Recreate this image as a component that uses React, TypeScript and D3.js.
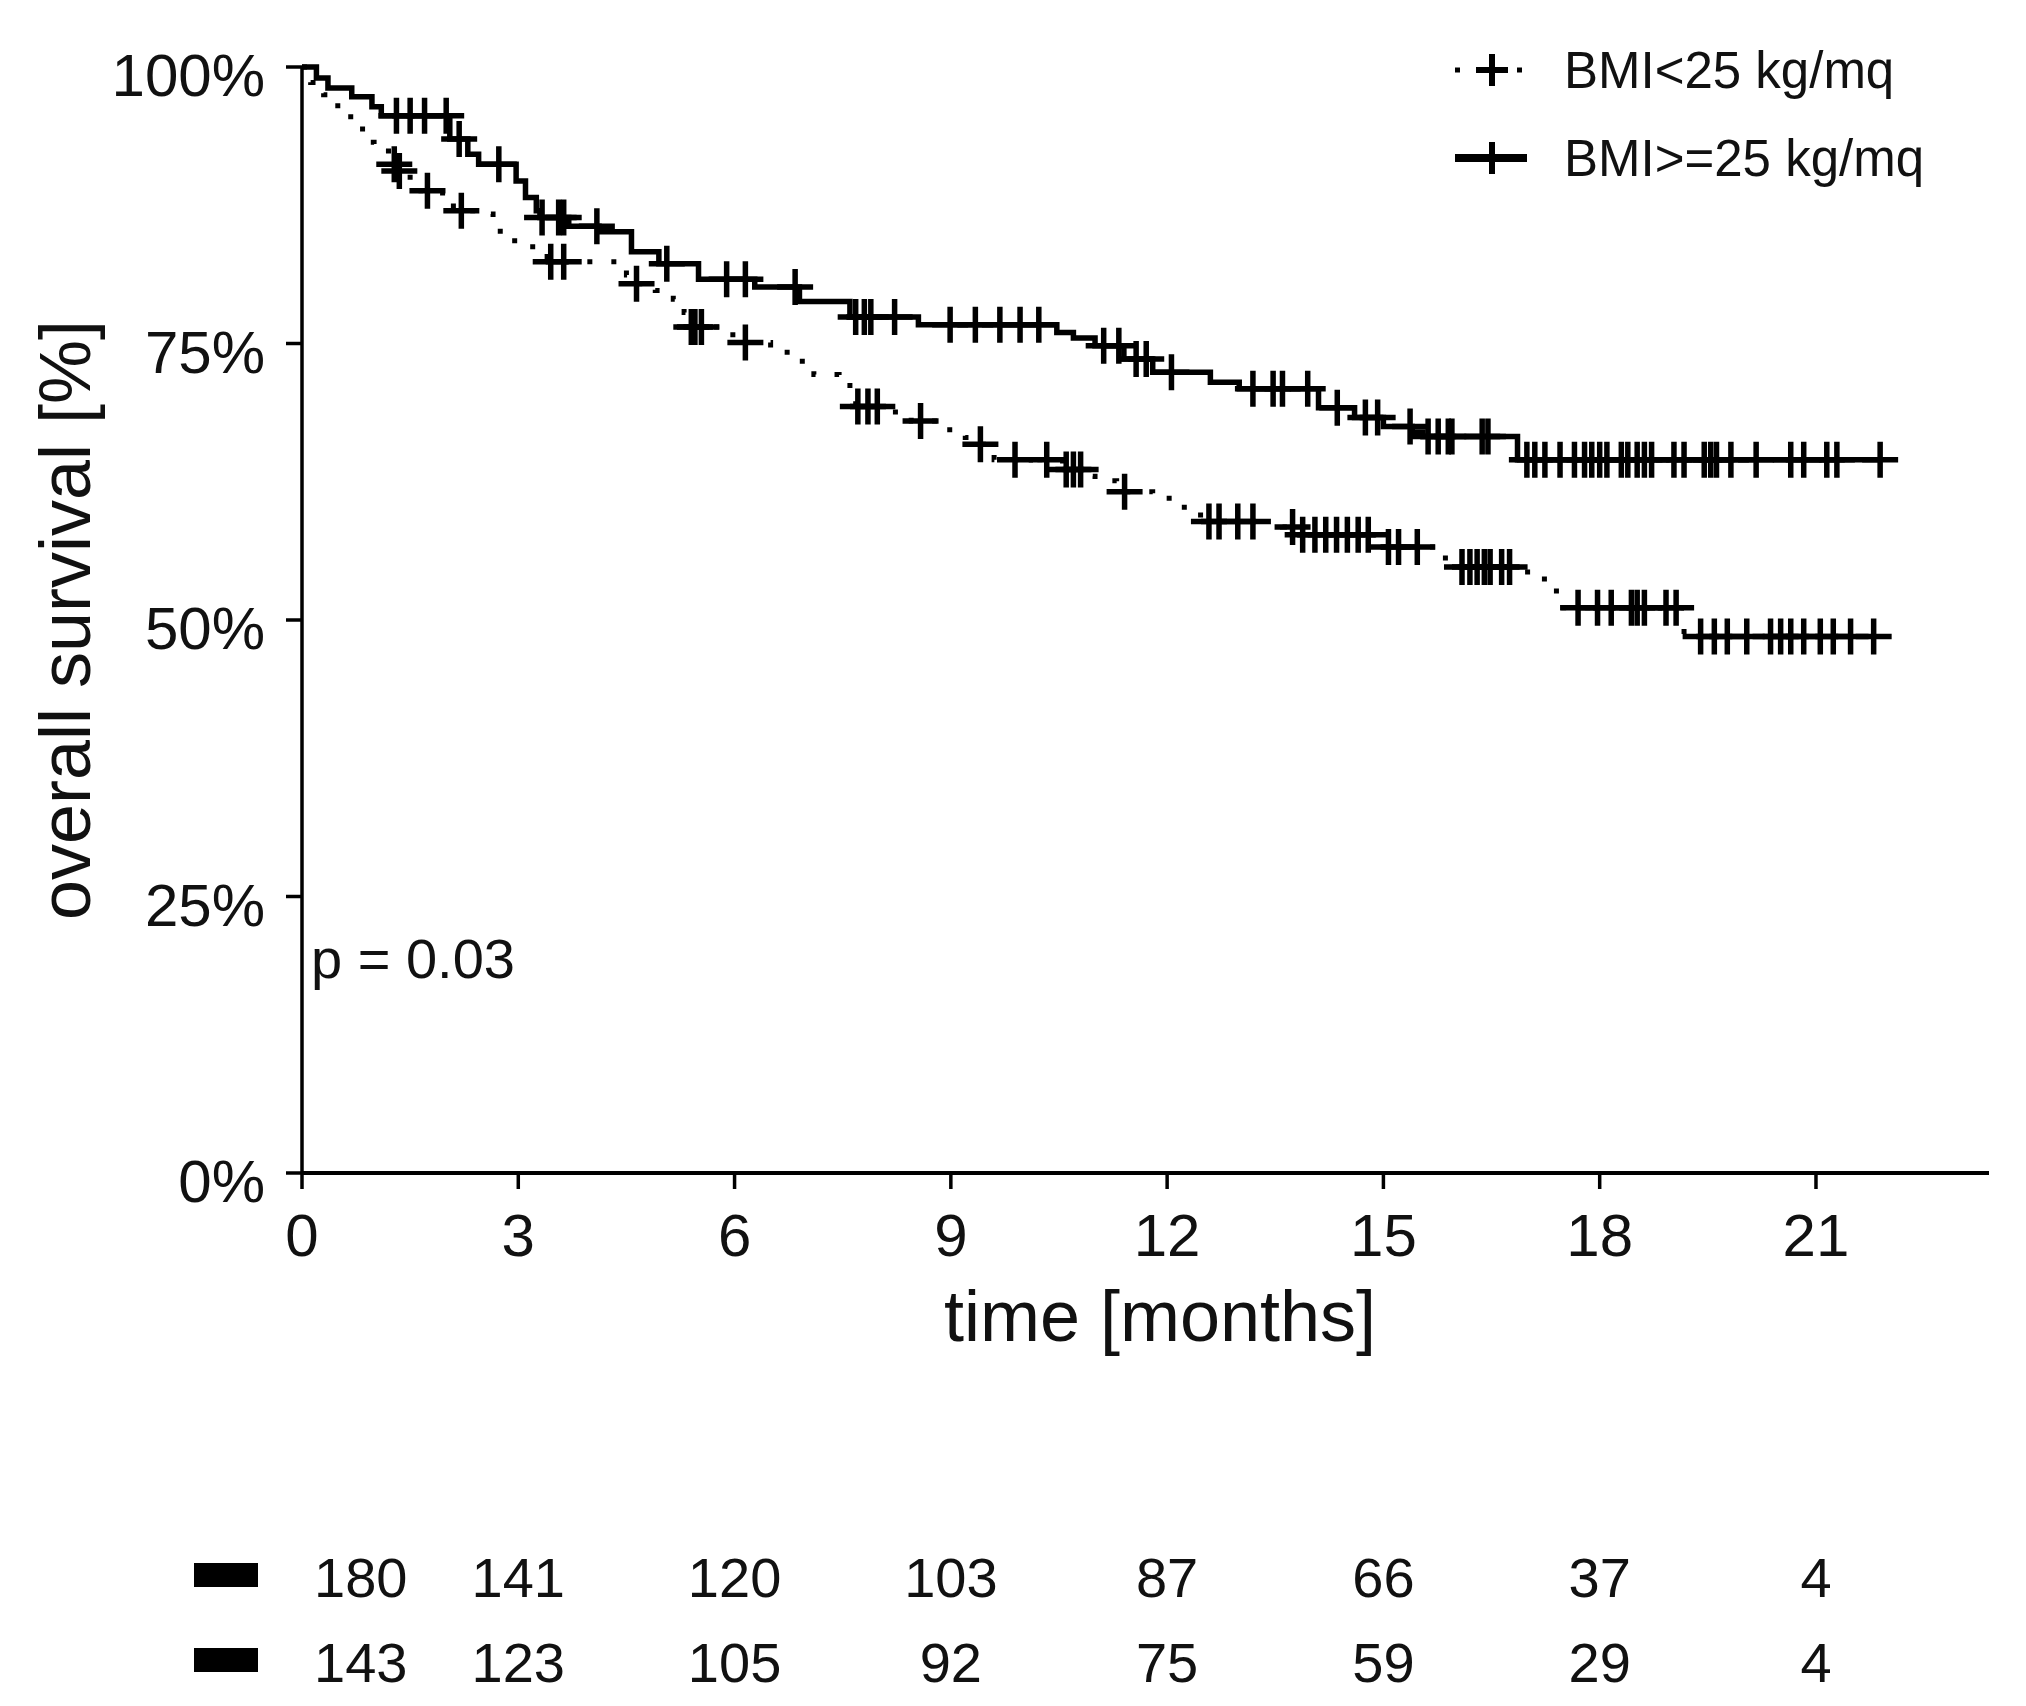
import React from "react";
import * as d3 from "d3";

const W = 2026;
const H = 1706;

// axis ticks
const timeTicks = [0, 3, 6, 9, 12, 15, 18, 21];
const survTicks = [0, 0.25, 0.5, 0.75, 1];

const groupNames = ["BMI<25 kg/mq", "BMI>=25 kg/mq"];

// BMI<25 (dotted) – step times [months] and survival after each drop
const lowStepTimes = [0.12, 0.3, 0.45, 0.6, 0.75, 0.9, 1.0, 1.2, 1.33, 1.5, 1.65, 1.95, 2.1, 2.55, 2.65, 2.75, 2.95, 3.2, 3.4, 4.5, 4.6, 4.9, 5.15, 5.3, 5.38, 5.9, 6.05, 6.5, 6.9, 7.1, 7.45, 7.6, 7.68, 8.1, 8.45, 8.9, 9.2, 9.35, 9.6, 10.55, 10.9, 11.0, 11.3, 11.8, 12.1, 12.4, 12.55, 13.6, 13.85, 15.0, 15.86, 17.0, 17.4, 19.17];
const lowStepSurv = [0.986, 0.975, 0.965, 0.955, 0.944, 0.932, 0.924, 0.912, 0.906, 0.896, 0.888, 0.879, 0.87, 0.867, 0.858, 0.849, 0.84, 0.832, 0.824, 0.812, 0.804, 0.798, 0.79, 0.778, 0.765, 0.758, 0.751, 0.742, 0.734, 0.722, 0.718, 0.705, 0.693, 0.688, 0.68, 0.672, 0.665, 0.659, 0.645, 0.636, 0.63, 0.626, 0.616, 0.61, 0.602, 0.595, 0.589, 0.584, 0.577, 0.566, 0.548, 0.537, 0.511, 0.485];
const lowCensor = [1.28, 1.35, 1.74, 2.21, 3.45, 3.63, 4.64, 5.4, 5.45, 5.54, 6.15, 7.71, 7.85, 7.98, 8.58, 9.41, 9.89, 10.33, 10.6, 10.7, 10.8, 11.41, 12.58, 12.72, 12.98, 13.19, 13.74, 13.88, 14.05, 14.2, 14.35, 14.5, 14.65, 14.79, 15.07, 15.21, 15.47, 16.09, 16.2, 16.3, 16.4, 16.48, 16.64, 16.75, 17.7, 17.97, 18.16, 18.44, 18.52, 18.62, 18.92, 19.06, 19.4, 19.59, 19.77, 20.04, 20.37, 20.51, 20.65, 20.83, 21.06, 21.24, 21.48, 21.8];
const lowEnd = 21.8;

// BMI>=25 (solid)
const highStepTimes = [0.2, 0.36, 0.69, 0.97, 1.1, 2.05, 2.3, 2.45, 2.97, 3.1, 3.25, 3.3, 3.7, 4.12, 4.57, 4.95, 5.5, 6.28, 6.9, 7.6, 8.55, 10.47, 10.7, 11.0, 11.4, 11.8, 12.6, 13.0, 14.1, 14.6, 15.0, 15.4, 15.55, 16.86];
const highStepSurv = [0.99, 0.981, 0.973, 0.964, 0.956, 0.935, 0.921, 0.912, 0.897, 0.882, 0.87, 0.864, 0.856, 0.851, 0.833, 0.822, 0.808, 0.801, 0.788, 0.774, 0.767, 0.76, 0.755, 0.748, 0.736, 0.724, 0.715, 0.709, 0.692, 0.683, 0.675, 0.67, 0.666, 0.645];
const highCensor = [1.31, 1.5, 1.7, 2.0, 2.18, 2.73, 3.33, 3.56, 3.63, 4.09, 5.06, 5.89, 6.15, 6.84, 7.68, 7.8, 7.89, 8.22, 8.99, 9.34, 9.68, 9.96, 10.22, 11.12, 11.33, 11.57, 11.71, 12.06, 13.19, 13.47, 13.6, 13.95, 14.36, 14.75, 14.92, 15.37, 15.62, 15.76, 15.9, 15.95, 16.37, 16.45, 16.99, 17.1, 17.24, 17.45, 17.65, 17.79, 17.89, 18.0, 18.1, 18.3, 18.39, 18.52, 18.62, 18.72, 19.03, 19.17, 19.45, 19.54, 19.62, 19.82, 20.17, 20.65, 20.83, 21.15, 21.29, 21.89];
const highEnd = 21.89;

// numbers at risk
const atRiskTimes = [0, 3, 6, 9, 12, 15, 18, 21];
const atRiskTop = [180, 141, 120, 103, 87, 66, 37, 4];
const atRiskBottom = [143, 123, 105, 92, 75, 59, 29, 4];

const pValueText = "p = 0.03";

const FONT = "'Liberation Sans', Arial, Helvetica, sans-serif";
const INK = "#111";

function survAt(times: number[], surv: number[], t: number) {
  let s = 1;
  for (let i = 0; i < times.length; i++) if (times[i] <= t) s = surv[i];
  return s;
}

function crossPath(cx: number, cy: number, h: number) {
  return `M${cx - h},${cy}H${cx + h}M${cx},${cy - h}V${cy + h}`;
}

export default function App() {
  const x = d3.scaleLinear().domain([0, 23.4]).range([302, 1989]);
  const y = d3.scaleLinear().domain([0, 1]).range([1173, 67]);

  const line = d3
    .line<[number, number]>()
    .x((d) => x(d[0]))
    .y((d) => y(d[1]))
    .curve(d3.curveStepAfter);

  const series = [
    { name: groupNames[0], times: lowStepTimes, surv: lowStepSurv, censor: lowCensor, end: lowEnd, dash: "5 19", width: 5 },
    { name: groupNames[1], times: highStepTimes, surv: highStepSurv, censor: highCensor, end: highEnd, dash: null, width: 5.5 },
  ];

  const rows = [atRiskTop, atRiskBottom];
  const rowY = [1575, 1660];

  return (
    <div>
      <style>{`body{margin:0;background:#fff}`}</style>
      <svg width={W} height={H} style={{ display: "block", background: "#fff" }} fontFamily={FONT}>
        {/* curves */}
        {series.map((s) => {
          const pts: [number, number][] = [[0, 1]];
          s.times.forEach((t, i) => pts.push([t, s.surv[i]]));
          pts.push([s.end, s.surv[s.surv.length - 1]]);
          return (
            <g key={s.name}>
              <path
                d={line(pts) || ""}
                fill="none"
                stroke="#000"
                strokeWidth={s.width}
                strokeDasharray={s.dash || undefined}
              />
              {s.censor.map((c, i) => (
                <path
                  key={i}
                  d={crossPath(x(c), y(survAt(s.times, s.surv, c)), 18)}
                  stroke="#000"
                  strokeWidth={5.5}
                  fill="none"
                />
              ))}
            </g>
          );
        })}

        {/* y axis */}
        <line x1={x(0)} x2={x(0)} y1={y(1)} y2={y(0)} stroke="#000" strokeWidth={3.5} />
        {survTicks.map((t) => (
          <g key={t}>
            <line x1={x(0) - 16} x2={x(0)} y1={y(t)} y2={y(t)} stroke="#000" strokeWidth={3.5} />
            <text x={265} y={y(t) + 29} textAnchor="end" fontSize={60} fill={INK}>
              {`${Math.round(t * 100)}%`}
            </text>
          </g>
        ))}

        {/* x axis */}
        <line x1={x(0)} x2={x.range()[1]} y1={y(0)} y2={y(0)} stroke="#000" strokeWidth={4} />
        {timeTicks.map((t) => (
          <g key={t}>
            <line x1={x(t)} x2={x(t)} y1={y(0)} y2={y(0) + 16} stroke="#000" strokeWidth={3.5} />
            <text x={x(t)} y={1256} textAnchor="middle" fontSize={60} fill={INK}>
              {t}
            </text>
          </g>
        ))}

        {/* axis titles */}
        <text x={1160} y={1341} textAnchor="middle" fontSize={72} fill={INK}>
          time [months]
        </text>
        <text
          transform={`translate(90,${(y(0) + y(1)) / 2}) rotate(-90)`}
          textAnchor="middle"
          fontSize={72}
          fill={INK}
        >
          overall survival [%]
        </text>

        {/* p value */}
        <text x={311} y={978} fontSize={56} fill={INK}>
          {pValueText}
        </text>

        {/* legend */}
        {series.map((s, i) => {
          const cy = i === 0 ? 70 : 158;
          return (
            <g key={s.name}>
              <line
                x1={1455}
                x2={1527}
                y1={cy}
                y2={cy}
                stroke="#000"
                strokeWidth={s.dash ? 5 : 8}
                strokeDasharray={s.dash ? "5 26" : undefined}
              />
              <path d={crossPath(1492, cy, 16)} stroke="#000" strokeWidth={6} fill="none" />
              <text x={1564} y={cy + 18} fontSize={51} fill={INK}>
                {s.name}
              </text>
            </g>
          );
        })}

        {/* numbers at risk */}
        {rows.map((r, ri) => (
          <g key={ri}>
            <rect x={194} y={rowY[ri] - 12} width={64} height={24} fill="#000" />
            {r.map((n, i) => (
              <text
                key={i}
                x={i === 0 ? x(atRiskTimes[i]) + 12 : x(atRiskTimes[i])}
                y={rowY[ri] + 22}
                textAnchor={i === 0 ? "start" : "middle"}
                fontSize={56}
                fill={INK}
              >
                {n}
              </text>
            ))}
          </g>
        ))}
      </svg>
    </div>
  );
}
